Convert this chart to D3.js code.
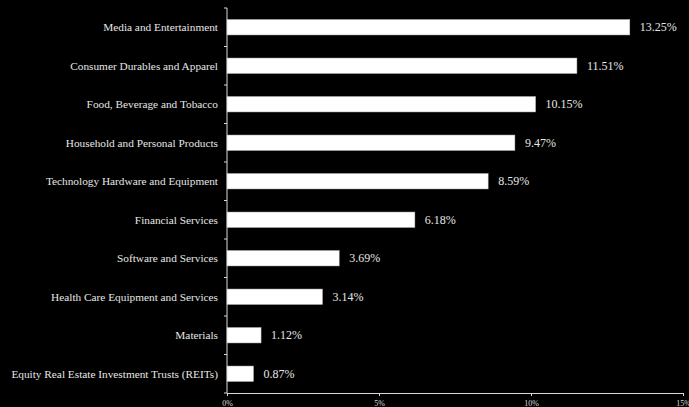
<!DOCTYPE html>
<html>
<head>
<meta charset="utf-8">
<script src="https://cdn.jsdelivr.net/npm/d3@7"></script>
<style>
  html, body { margin: 0; padding: 0; background: #000; }
  svg { display: block; }
  .axis path, .axis line { stroke: #d9d9d9; stroke-width: 1; }
  .axis text { fill: #d9d9d9; font-family: "Liberation Serif", serif; }
</style>
</head>
<body>
<div id="chart"></div>
<script>
// Categorías y valores
const categories = [
    "Media and Entertainment",
    "Consumer Durables and Apparel",
    "Food, Beverage and Tobacco",
    "Household and Personal Products",
    "Technology Hardware and Equipment",
    "Financial Services",
    "Software and Services",
    "Health Care Equipment and Services",
    "Materials",
    "Equity Real Estate Investment Trusts (REITs)"
];
const values = [13.25, 11.51, 10.15, 9.47, 8.59, 6.18, 3.69, 3.14, 1.12, 0.87];
const xTicks = [0, 5, 10, 15];

function renderChart() {
    const width = 689;
    const height = 407;
    const margin = { top: 8, right: 6, bottom: 14, left: 227 };
    const innerWidth = width - margin.left - margin.right;
    const innerHeight = height - margin.top - margin.bottom;

    const svg = d3.select("#chart")
        .append("svg")
        .attr("width", width)
        .attr("height", height);

    svg.append("rect")
        .attr("width", width)
        .attr("height", height)
        .attr("fill", "#000");

    const g = svg.append("g")
        .attr("transform", `translate(${margin.left},${margin.top})`);

    const x = d3.scaleLinear()
        .domain([0, 15])
        .range([0, innerWidth]);

    const y = d3.scaleBand()
        .domain(categories)
        .range([0, innerHeight])
        .paddingInner(0.6)
        .paddingOuter(0.3);

    // Eje X
    const xAxis = g.append("g")
        .attr("class", "axis")
        .attr("transform", `translate(0,${innerHeight})`)
        .call(d3.axisBottom(x).tickValues(xTicks).tickFormat(d => d + "%").tickSizeOuter(0).tickSize(3));
    xAxis.selectAll("text").attr("font-size", 8).attr("dy", "0.85em");

    // Eje Y: línea con marcas entre categorías
    g.append("line")
        .attr("x1", 0).attr("x2", 0)
        .attr("y1", 0).attr("y2", innerHeight)
        .attr("stroke", "#d9d9d9");

    g.selectAll(".ytick")
        .data(d3.range(categories.length + 1))
        .enter()
        .append("line")
        .attr("class", "ytick")
        .attr("x1", -3).attr("x2", 0)
        .attr("y1", i => i * y.step())
        .attr("y2", i => i * y.step())
        .attr("stroke", "#d9d9d9");

    // Etiquetas de categorías
    g.selectAll(".cat-label")
        .data(categories)
        .enter()
        .append("text")
        .attr("class", "cat-label")
        .attr("x", -9)
        .attr("y", d => y(d) + y.bandwidth() / 2)
        .attr("dy", "0.35em")
        .attr("text-anchor", "end")
        .attr("fill", "#e6e6e6")
        .attr("font-family", "Liberation Serif, serif")
        .attr("font-size", 11.3)
        .text(d => d);

    // Barras
    g.selectAll(".bar")
        .data(values)
        .enter()
        .append("rect")
        .attr("class", "bar")
        .attr("x", 0)
        .attr("y", (d, i) => y(categories[i]))
        .attr("width", d => x(d))
        .attr("height", y.bandwidth())
        .attr("fill", "#fff")
        .attr("stroke", "#bfbfbf")
        .attr("stroke-width", 0.5);

    // Etiquetas de valores
    g.selectAll(".value-label")
        .data(values)
        .enter()
        .append("text")
        .attr("class", "value-label")
        .attr("x", d => x(d) + 10)
        .attr("y", (d, i) => y(categories[i]) + y.bandwidth() / 2)
        .attr("dy", "0.35em")
        .attr("fill", "#e6e6e6")
        .attr("font-family", "Liberation Serif, serif")
        .attr("font-size", 12)
        .text(d => d.toFixed(2) + "%");
}

renderChart();
</script>
</body>
</html>
